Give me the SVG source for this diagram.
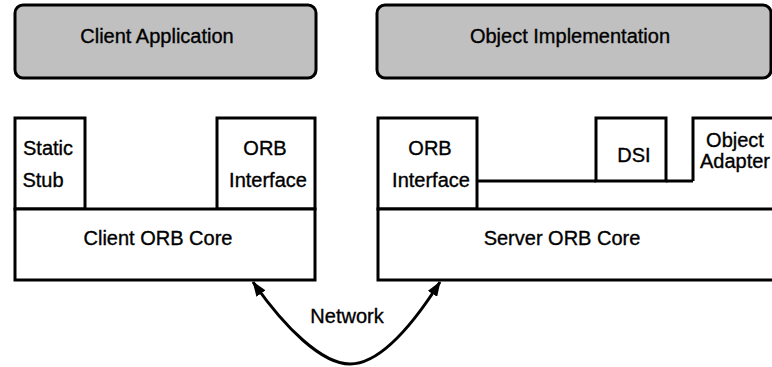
<svg xmlns="http://www.w3.org/2000/svg" width="772" height="367" viewBox="0 0 772 367">
  <style>
    .box { fill: #ffffff; stroke: #000000; stroke-width: 3; }
    .app { fill: #c0c0c0; stroke: #000000; stroke-width: 3; }
    .line { fill: none; stroke: #000000; stroke-width: 3; }
    text { font-family: "Liberation Sans", Arial, sans-serif; font-size: 20px; fill: #000000; stroke: #000000; stroke-width: 0.35; text-anchor: middle; }
  </style>
  <defs>
    <marker id="head" viewBox="0 0 15 11" refX="14" refY="5.5" markerWidth="15" markerHeight="11" markerUnits="userSpaceOnUse" orient="auto-start-reverse">
      <path d="M0,0 L15,5.5 L0,11 Z" fill="#000000"/>
    </marker>
  </defs>
  <rect width="772" height="367" fill="#ffffff"/>

  <!-- Client side -->
  <g id="client-application">
    <rect class="app" x="15" y="5" width="301" height="73" rx="8"/>
    <text x="157" y="43">Client Application</text>
  </g>
  <g id="static-stub">
    <rect class="box" x="15" y="118" width="70" height="91"/>
    <text x="48" y="155">Static</text>
    <text x="43" y="187">Stub</text>
  </g>
  <g id="client-orb-interface">
    <rect class="box" x="217" y="118" width="98" height="91"/>
    <text x="265" y="155">ORB</text>
    <text x="268" y="187">Interface</text>
  </g>
  <g id="client-orb-core">
    <rect class="box" x="15" y="209" width="300" height="71"/>
    <text x="158" y="245">Client ORB Core</text>
  </g>

  <!-- Server side -->
  <g id="object-implementation">
    <rect class="app" x="377" y="5" width="394" height="73" rx="8"/>
    <text x="570" y="43">Object Implementation</text>
  </g>
  <g id="server-skeleton-layer">
    <path class="line" d="M477,181 L596,181 M666,181 L693,181"/>
  </g>
  <g id="server-orb-interface">
    <rect class="box" x="378" y="118" width="99" height="91"/>
    <text x="430" y="155">ORB</text>
    <text x="431" y="187">Interface</text>
  </g>
  <g id="dsi">
    <rect class="box" x="596" y="118" width="70" height="63"/>
    <text x="634" y="162">DSI</text>
  </g>
  <g id="object-adapter">
    <path class="line" d="M693,181 L693,118 L780,118"/>
    <text x="735" y="147">Object</text>
    <text x="735" y="168">Adapter</text>
  </g>
  <g id="server-orb-core">
    <rect class="box" x="378" y="209" width="410" height="71"/>
    <text x="562" y="245">Server ORB Core</text>
  </g>

  <!-- Network link between the two ORB cores -->
  <g id="connectors">
    <path class="line" d="M253,282 C285,328 322,364 350,364 C380,364 412,326 440,282" marker-start="url(#head)" marker-end="url(#head)"/>
    <text x="347" y="323">Network</text>
  </g>
</svg>
